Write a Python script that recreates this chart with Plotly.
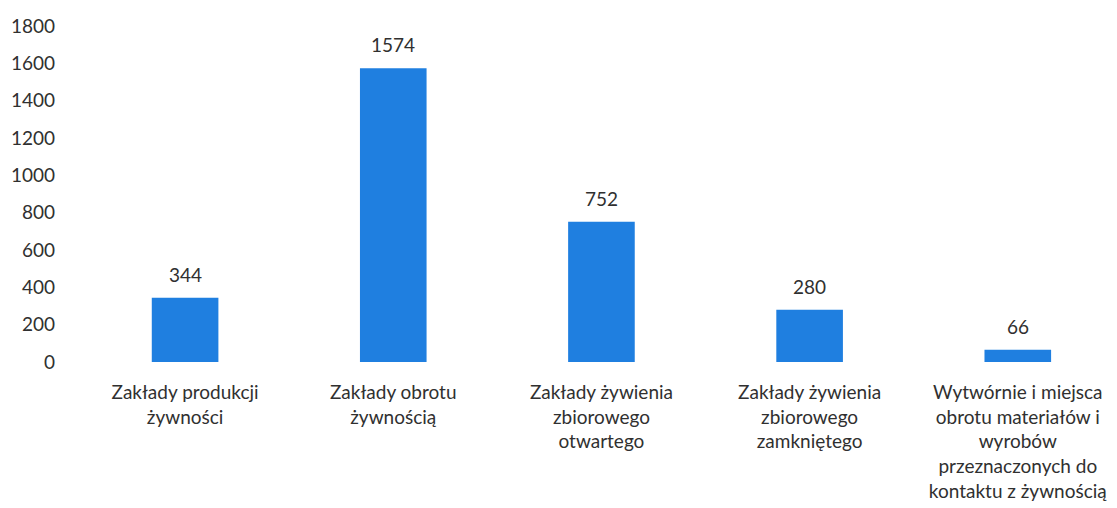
import plotly.graph_objects as go

categories = [
    "Zakłady produkcji<br>żywności",
    "Zakłady obrotu<br>żywnością",
    "Zakłady żywienia<br>zbiorowego<br>otwartego",
    "Zakłady żywienia<br>zbiorowego<br>zamkniętego",
    "Wytwórnie i miejsca<br>obrotu materiałów i<br>wyrobów<br>przeznaczonych do<br>kontaktu z żywnością",
]
values = [344, 1574, 752, 280, 66]
tick_vals = [0, 200, 400, 600, 800, 1000, 1200, 1400, 1600, 1800]

FONT = "Lato, 'Open Sans', sans-serif"
TXT = "#303030"

fig = go.Figure(go.Bar(
    x=categories, y=values,
    marker=dict(color="#1F7FE0", line=dict(width=0)),
    width=0.32,
))

for c, v in zip(categories, values):
    fig.add_annotation(x=c, y=v, text=str(v), showarrow=False,
                       yanchor="bottom", yshift=10,
                       font=dict(family=FONT, size=19, color=TXT))

fig.update_layout(
    width=1117, height=508,
    margin=dict(l=73, r=0, t=18, b=154),
    paper_bgcolor="white", plot_bgcolor="white",
    showlegend=False,
    font=dict(family=FONT, size=19, color=TXT),
)
fig.update_xaxes(showgrid=False, showline=False, zeroline=False,
                 range=[-0.5, 4.515],
                 tickfont=dict(family=FONT, size=19, color=TXT),
                 ticklabelstandoff=17)
fig.update_yaxes(range=[0, 1800], tickvals=tick_vals, showgrid=False,
                 showline=False, zeroline=False,
                 tickfont=dict(family=FONT, size=19, color=TXT),
                 ticklabelstandoff=25)

fig.write_html("out.html")
